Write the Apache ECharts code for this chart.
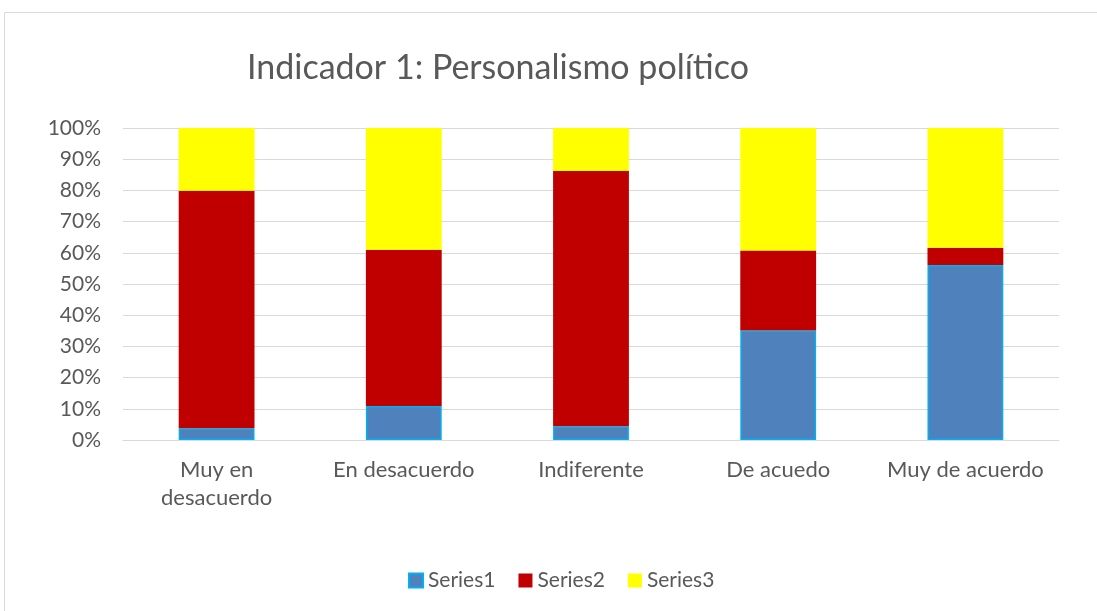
<!DOCTYPE html>
<html>
<head>
<meta charset="utf-8">
<script src="https://cdn.jsdelivr.net/npm/echarts@6/dist/echarts.min.js"></script>
<style>
  html, body { margin: 0; padding: 0; background: #fff; }
  #chart { width: 1097px; height: 611px; }
</style>
</head>
<body>
<div id="chart"></div>
<script>
// categories and stacked shares (percent)
var categories = ["Muy en\ndesacuerdo", "En desacuerdo", "Indiferente", "De acuedo", "Muy de acuerdo"];
var series1 = [3.8, 10.9, 4.4, 35.1, 56.1];
var series2 = [76.1, 50.1, 81.8, 25.6, 5.5];
var series3 = [20.1, 39.0, 13.8, 39.3, 38.4];
var yTicks = [0, 10, 20, 30, 40, 50, 60, 70, 80, 90, 100];

var textColor = "#595959";
var font = "Lato, 'Open Sans', sans-serif";

var chart = echarts.init(document.getElementById("chart"));

chart.setOption({
  animation: false,
  textStyle: { fontFamily: font },
  graphic: [
    {
      type: "rect",
      shape: { x: 4.5, y: 12.5, width: 1100, height: 610 },
      style: { fill: "none", stroke: "#d9d9d9", lineWidth: 1 },
      silent: true,
    },
  ],
  title: {
    text: "Indicador 1: Personalismo político",
    left: 493,
    textAlign: "center",
    top: 46,
    textStyle: {
      fontFamily: font,
      fontSize: 34,
      fontWeight: "normal",
      color: textColor,
    },
  },
  legend: {
    top: 565,
    left: 403,
    itemWidth: 14,
    itemHeight: 14,
    itemGap: 23,
    icon: "rect",
    textStyle: { fontSize: 21, color: textColor, fontFamily: font },
    data: ["Series1", "Series2", "Series3"],
  },
  grid: {
    left: 123,
    right: 38,
    top: 128,
    bottom: 171,
  },
  xAxis: {
    type: "category",
    data: categories,
    axisTick: { show: false },
    axisLine: { show: true, lineStyle: { color: "#d9d9d9", width: 1 } },
    axisLabel: {
      fontSize: 22,
      color: textColor,
      margin: 16,
      lineHeight: 28,
      interval: 0,
    },
  },
  yAxis: {
    type: "value",
    min: 0,
    max: 100,
    interval: 10,
    axisLine: { show: false },
    axisTick: { show: false },
    splitLine: { lineStyle: { color: "#d9d9d9", width: 1 } },
    axisLabel: {
      fontSize: 21,
      color: textColor,
      margin: 22,
      formatter: function (v) {
        return yTicks.indexOf(v) >= 0 ? v + "%" : "";
      },
    },
  },
  series: [
    {
      name: "Series1",
      type: "bar",
      stack: "total",
      barWidth: "40.5%",
      data: series1,
      itemStyle: { color: "#4f81bd", borderColor: "#00b0f0", borderWidth: 1.5 },
    },
    {
      name: "Series2",
      type: "bar",
      stack: "total",
      data: series2,
      itemStyle: { color: "#c00000" },
    },
    {
      name: "Series3",
      type: "bar",
      stack: "total",
      data: series3,
      itemStyle: { color: "#ffff00" },
    },
  ],
});
</script>
</body>
</html>
